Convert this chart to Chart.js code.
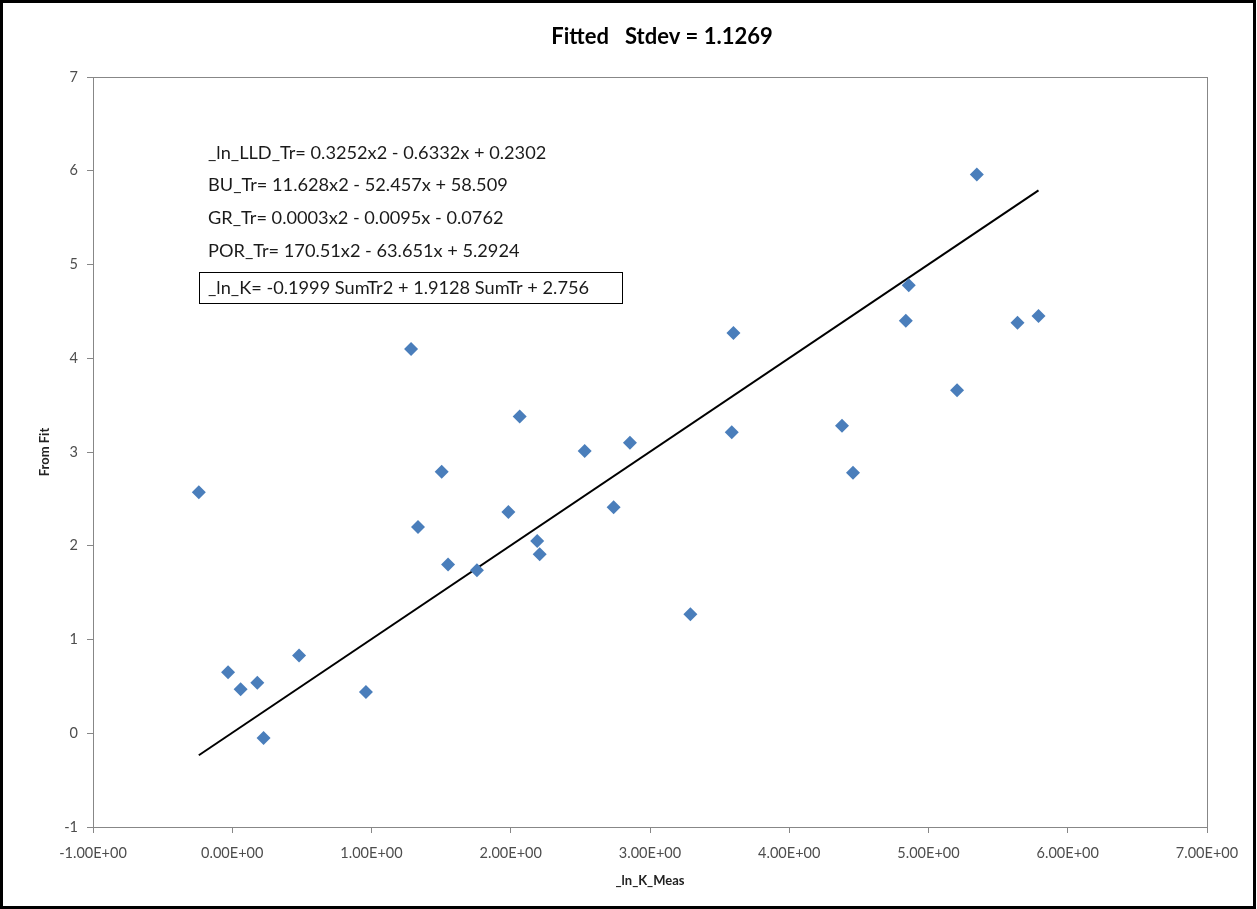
<!DOCTYPE html>
<html>
<head>
<meta charset="utf-8">
<script src="https://cdn.jsdelivr.net/npm/chart.js@4.4.1/dist/chart.umd.min.js"></script>
<style>
    html, body { margin: 0; padding: 0; background: #fff; }
    #wrap { width: 1257px; height: 909px; position: relative; }
</style>
</head>
<body>
<div id="wrap"><canvas id="fitChart" width="1257" height="909"></canvas></div>
<script>
var measX = [-0.24, -0.03, 0.06, 0.18, 0.225, 0.48, 0.96, 1.284, 1.334, 1.504,
             1.55, 1.757, 1.983, 2.064, 2.19, 2.208, 2.531, 2.739, 2.856, 3.29,
             3.587, 3.599, 4.379, 4.458, 4.837, 4.858, 5.205, 5.347, 5.639, 5.79];
var fitY = [2.57, 0.65, 0.47, 0.54, -0.05, 0.83, 0.44, 4.10, 2.20, 2.79,
            1.80, 1.74, 2.36, 3.38, 2.05, 1.91, 3.01, 2.41, 3.10, 1.27,
            3.21, 4.27, 3.28, 2.78, 4.40, 4.78, 3.66, 5.96, 4.38, 4.45];

// trend line end points
var lineX = [-0.24, 5.79];
var lineY = [-0.235, 5.79];

var titleText = 'Fitted   Stdev = 1.1269';
var equationLines = [
    '_ln_LLD_Tr= 0.3252x2 - 0.6332x + 0.2302',
    'BU_Tr= 11.628x2 - 52.457x + 58.509',
    'GR_Tr= 0.0003x2 - 0.0095x - 0.0762',
    'POR_Tr= 170.51x2 - 63.651x + 5.2924'
];
var boxEquation = '_ln_K= -0.1999 SumTr2 + 1.9128 SumTr + 2.756';

var FONT = 'Lato, "Open Sans", sans-serif';

// Excel style 0.00E+00 labels
function sciLabel(v) {
    var s = Number(v).toExponential(2).toUpperCase();
    var parts = s.split('E');
    var exp = parseInt(parts[1], 10);
    var sign = exp < 0 ? '-' : '+';
    var e = Math.abs(exp);
    return parts[0] + 'E' + sign + (e < 10 ? '0' + e : e);
}

// frame, plot box, title and equation text
var decorPlugin = {
    id: 'decor',
    afterDraw: function (chart) {
        var ctx = chart.ctx;
        var a = chart.chartArea;
        ctx.save();
        // plot box
        ctx.strokeStyle = '#878787';
        ctx.lineWidth = 1;
        ctx.strokeRect(Math.round(a.left) + 0.5, Math.round(a.top) + 0.5,
                       Math.round(a.right - a.left), Math.round(a.bottom - a.top));
        // outer frame
        ctx.strokeStyle = '#000';
        ctx.lineWidth = 3;
        ctx.strokeRect(1.5, 1.5, chart.width - 4, chart.height - 3);

        // title (placed a bit right of centre, like the original)
        ctx.fillStyle = '#000';
        ctx.font = 'bold 22px ' + FONT;
        ctx.textAlign = 'center';
        ctx.textBaseline = 'middle';
        ctx.fillText(titleText, 662, 37);

        // equations
        ctx.fillStyle = '#1a1a1a';
        ctx.font = '18.2px ' + FONT;
        ctx.textAlign = 'left';
        var ys = [153, 185, 218, 251];
        equationLines.forEach(function (t, i) {
            ctx.fillText(t, 208, ys[i]);
        });
        ctx.fillText(boxEquation, 208, 288);
        ctx.strokeStyle = '#000';
        ctx.lineWidth = 1;
        ctx.strokeRect(199.5, 272.5, 423, 31);
        ctx.restore();
    }
};

var ctx = document.getElementById('fitChart').getContext('2d');
var fitChart = new Chart(ctx, {
    type: 'scatter',
    data: {
        datasets: [{
            label: 'From Fit',
            data: measX.map(function (x, i) { return { x: x, y: fitY[i] }; }),
            pointStyle: 'rectRot',
            pointRadius: 7,
            pointHoverRadius: 7,
            backgroundColor: '#4A7EBB',
            borderColor: '#4A7EBB',
            borderWidth: 0,
            showLine: false
        }, {
            label: 'Linear',
            data: lineX.map(function (x, i) { return { x: x, y: lineY[i] }; }),
            showLine: true,
            borderColor: '#000',
            borderWidth: 2,
            pointRadius: 0,
            fill: false
        }]
    },
    options: {
        responsive: false,
        animation: false,
        devicePixelRatio: 1,
        layout: {
            padding: { left: 20, right: 50, top: 77, bottom: 20 }
        },
        plugins: {
            legend: { display: false },
            tooltip: { enabled: false },
            title: { display: false }
        },
        scales: {
            x: {
                type: 'linear',
                min: -1,
                max: 7,
                afterFit: function (scale) { scale.height = 62; },
                ticks: {
                    stepSize: 1,
                    color: '#4d4d4d',
                    font: { family: FONT, size: 14.5 },
                    padding: 12,
                    maxRotation: 0,
                    callback: function (v) { return sciLabel(v); }
                },
                grid: {
                    drawOnChartArea: false,
                    color: '#878787',
                    tickLength: 6
                },
                border: { color: '#878787' },
                title: {
                    display: true,
                    text: '_ln_K_Meas',
                    color: '#222',
                    font: { family: FONT, size: 13, weight: 'bold' },
                    padding: { top: 6, bottom: 0 }
                }
            },
            y: {
                type: 'linear',
                min: -1,
                max: 7,
                afterFit: function (scale) { scale.width = 73; },
                ticks: {
                    stepSize: 1,
                    color: '#4d4d4d',
                    font: { family: FONT, size: 14.5 },
                    padding: 9
                },
                grid: {
                    drawOnChartArea: false,
                    color: '#878787',
                    tickLength: 6
                },
                border: { color: '#878787' },
                title: {
                    display: true,
                    text: 'From Fit',
                    color: '#222',
                    font: { family: FONT, size: 13, weight: 'bold' },
                    padding: { top: 17, bottom: 0 }
                }
            }
        }
    },
    plugins: [decorPlugin]
});
</script>
</body>
</html>
